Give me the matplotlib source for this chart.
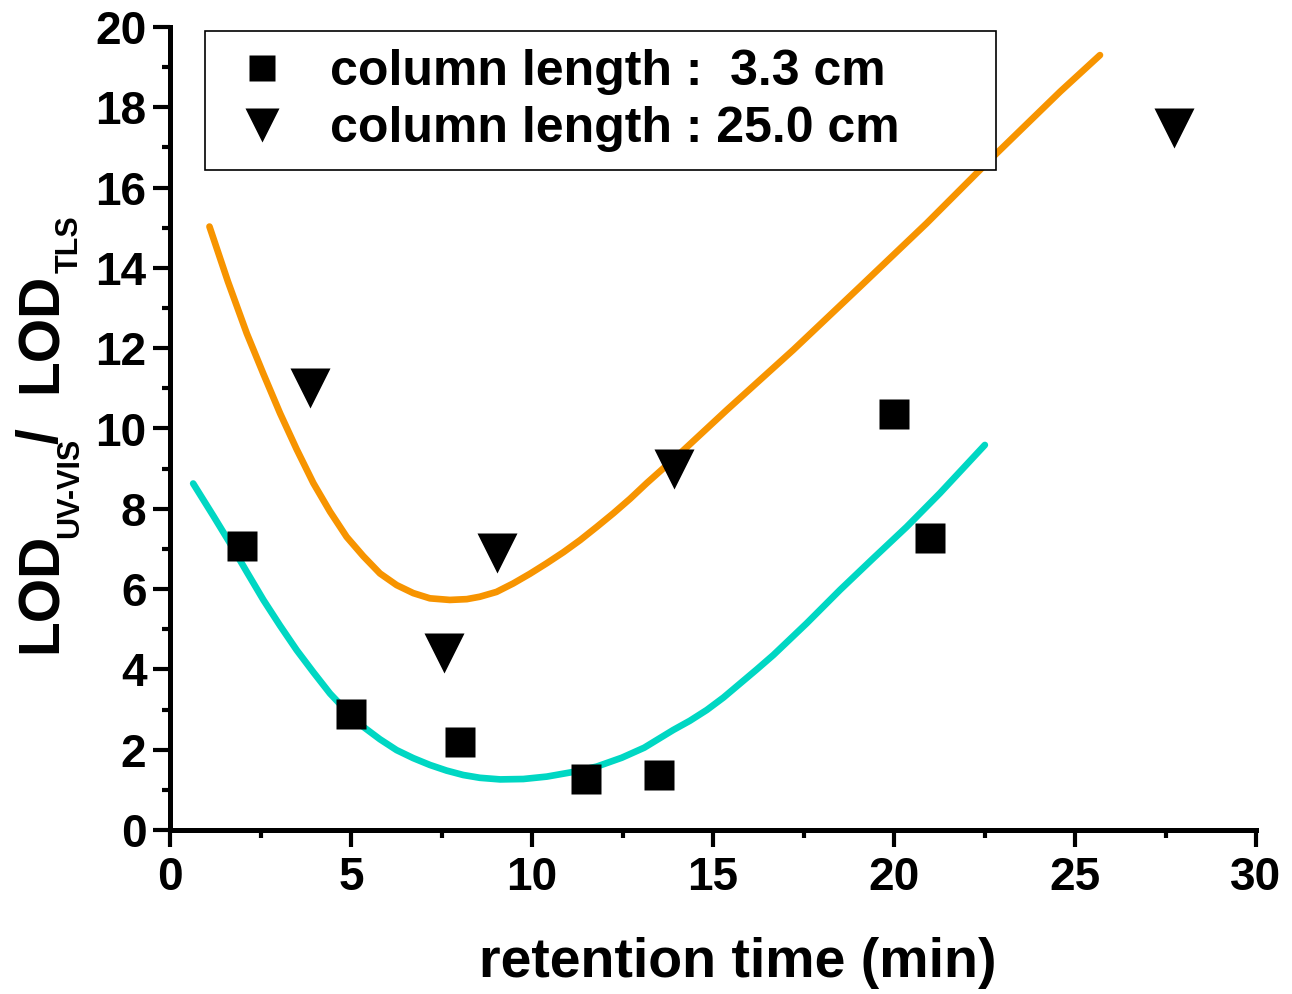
import numpy as np
import matplotlib
matplotlib.use("Agg")
import matplotlib.pyplot as plt
from matplotlib.lines import Line2D
from matplotlib.ticker import MultipleLocator

plt.rcParams['font.family'] = ['Liberation Sans', 'DejaVu Sans']
plt.rcParams['font.weight'] = 'bold'

# measured points
short_x = [2.0, 5.0, 8.0, 11.5, 13.5, 20.0, 21.0]
short_y = [7.08, 2.88, 2.18, 1.28, 1.38, 10.37, 7.27]
long_x = [3.88, 7.58, 9.03, 13.92, 27.73]
long_y = [11.02, 4.41, 6.91, 8.99, 17.49]

# fitted curves
fit_long_x = [1.09, 1.60, 2.12, 2.58, 3.04, 3.50, 3.96, 4.42, 4.88, 5.34, 5.80, 6.26,
              6.72, 7.18, 7.73, 8.20, 8.56, 9.02, 9.48, 9.94, 10.40, 10.87, 11.33,
              11.79, 12.25, 12.71, 13.17, 14.09, 15.38, 17.22, 19.06, 20.90, 22.74,
              24.59, 25.69]
fit_long_y = [15.03, 13.66, 12.37, 11.36, 10.38, 9.48, 8.64, 7.93, 7.30, 6.82, 6.39, 6.10,
              5.90, 5.77, 5.73, 5.75, 5.81, 5.93, 6.14, 6.38, 6.64, 6.92, 7.22,
              7.55, 7.89, 8.25, 8.64, 9.38, 10.46, 11.96, 13.53, 15.11, 16.77,
              18.39, 19.30]
fit_short_x = [0.64, 1.20, 1.66, 2.12, 2.58, 3.04, 3.50, 3.96, 4.42, 4.88, 5.34, 5.80,
               6.26, 6.72, 7.18, 7.64, 8.10, 8.56, 9.12, 9.76, 10.41, 11.10, 11.79,
               12.48, 13.10, 13.90, 14.36, 14.83, 15.29, 15.75, 16.21, 16.67, 17.59,
               18.51, 19.43, 20.35, 21.27, 22.51]
fit_short_y = [8.63, 7.82, 7.14, 6.43, 5.73, 5.09, 4.48, 3.93, 3.40, 2.96, 2.57, 2.26,
               1.99, 1.79, 1.62, 1.48, 1.37, 1.30, 1.26, 1.27, 1.33, 1.44, 1.58,
               1.80, 2.05, 2.49, 2.72, 2.99, 3.30, 3.65, 4.00, 4.36, 5.15,
               5.98, 6.77, 7.55, 8.39, 9.59]

labels = ['column length :  3.3 cm', 'column length : 25.0 cm']

W, H = 1292, 994
fig = plt.figure(figsize=(W / 100, H / 100), dpi=100)
ax = fig.add_axes([170 / W, 1 - 830 / H, (1256 - 170) / W, (830 - 27) / H])

ax.plot(fit_long_x, fit_long_y, color='#F79400', lw=4.8, solid_capstyle='round',
        solid_joinstyle='round', zorder=2)
ax.plot(fit_short_x, fit_short_y, color='#00D7C3', lw=4.8, solid_capstyle='round',
        solid_joinstyle='round', zorder=2)
ax.plot(short_x, short_y, 's', color='black', ms=22, mec='none', zorder=3)
ax.plot(long_x, long_y, 'v', color='black', ms=29, mec='none', zorder=3)

ax.set_xlim(0, 30)
ax.set_ylim(0, 20)
ax.xaxis.set_major_locator(MultipleLocator(5))
ax.xaxis.set_minor_locator(MultipleLocator(2.5))
ax.yaxis.set_major_locator(MultipleLocator(2))
ax.yaxis.set_minor_locator(MultipleLocator(1))
for s in ['top', 'right']:
    ax.spines[s].set_visible(False)
for s in ['left', 'bottom']:
    ax.spines[s].set_linewidth(3.6)
ax.tick_params(which='major', length=12, width=3, labelsize=33, direction='out')
ax.tick_params(which='minor', length=6, width=3, direction='out')
ax.tick_params(axis='y', which='major', pad=5)
ax.tick_params(axis='x', which='major', pad=7)
for t in ax.get_xticklabels() + ax.get_yticklabels():
    t.set_fontweight('bold')

handles = [Line2D([], [], ls='none', marker='s', color='black', ms=19, mec='none'),
           Line2D([], [], ls='none', marker='v', color='black', ms=24, mec='none')]
leg = ax.legend(handles, labels, loc='upper left', mode='expand',
                bbox_to_anchor=(205 / W, 1 - 161 / H, (996 - 205) / W, 130 / H),
                bbox_transform=fig.transFigure, borderaxespad=0,
                prop={'size': 36, 'weight': 'bold'}, frameon=True, fancybox=False,
                handlelength=1.56, handletextpad=0.58, borderpad=0.36, labelspacing=0.22,
                numpoints=1)
leg.get_frame().set_edgecolor('black')
leg.get_frame().set_linewidth(1.2)
leg.get_frame().set_alpha(1)

fig.text(738 / W, 17 / H, 'retention time (min)', ha='center', va='baseline',
         fontsize=40, fontweight='bold')

# y label built from pieces (subscripts)
ylab = [('LOD', 57, 341, 41), ('UV-VIS', 78, 456, 22), ('/', 57, 550, 41),
        ('LOD', 57, 601, 41), ('TLS', 78, 721, 22)]
for txt, bx, by, fs in ylab:
    fig.text(bx / W, by / H, txt, rotation=90, rotation_mode='anchor',
             ha='left', va='baseline', fontsize=fs, fontweight='bold')

fig.savefig('out.png', dpi=100)
